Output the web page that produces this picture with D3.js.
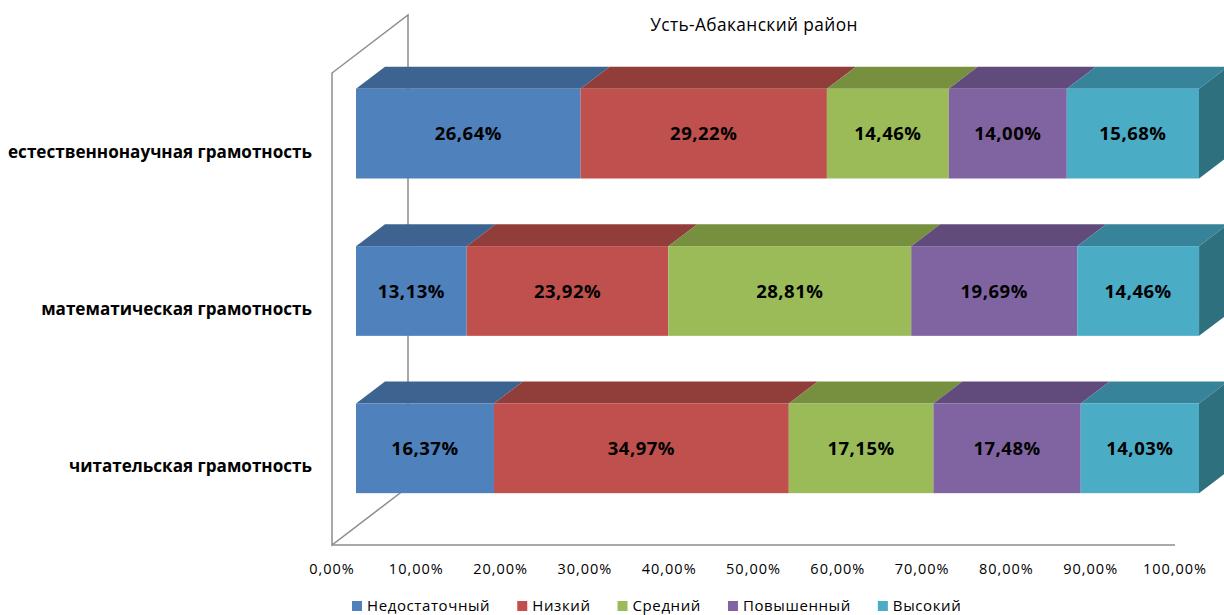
<!DOCTYPE html>
<html><head><meta charset="utf-8">
<script src="https://cdn.jsdelivr.net/npm/d3@7/dist/d3.min.js"></script>
<style>body{margin:0;background:#fff}svg{display:block}</style>
</head><body>
<svg id="c" width="1224" height="615"></svg>
<script>
const title = "Усть-Абаканский район";
const categories = ["естественнонаучная грамотность","математическая грамотность","читательская грамотность"];
const seriesNames = ["Недостаточный","Низкий","Средний","Повышенный","Высокий"];
const sNedost = [26.64,13.13,16.37];
const sNizk = [29.22,23.92,34.97];
const sSred = [14.46,28.81,17.15];
const sPov = [14.00,19.69,17.48];
const sVys = [15.68,14.46,14.03];
const tickValues = [0,10,20,30,40,50,60,70,80,90,100];
const frontColors = ["#4F81BD","#C0504D","#9BBB59","#8064A2","#4BACC6"];
const topColors = ["#3D6491","#913E3B","#77903F","#614B7C","#37839A"];
const sideColors = ["#2F4D70","#70302E","#5C6F31","#4B3A60","#2F707F"];
const series = [sNedost,sNizk,sSred,sPov,sVys];

const svg = d3.select("#c");
const FONT = "'Open Sans', 'DejaVu Sans', sans-serif";
const x = d3.scaleLinear().domain([0,100]).range([332,1175]);
const y = d3.scaleBand().domain(categories).range([73,545]);
const depthX = 76, depthY = -58;
const barOffX = 24, barOffY = -18;
const barDX = 29, barDY = -22;
const barFrac = 0.57;
const fmt = v => d3.format(".2f")(v).replace(".",",")+"%";

// walls / floor
const g0 = svg.append("g").attr("stroke","#8c8c8c").attr("stroke-width",1.5).attr("fill","none");
const x0 = x(0), yT = y.range()[0], yB = y.range()[1];
g0.append("path").attr("d",`M${x0},${yB}L${x0},${yT}L${x0+depthX},${yT+depthY}L${x0+depthX},${yB+depthY}Z`);
g0.append("line").attr("x1",x0).attr("y1",yB).attr("x2",x(100)).attr("y2",yB);

// bars
const bars = svg.append("g");
categories.forEach((cat,ci)=>{
  const bh = y.bandwidth()*barFrac;
  const yc = y(cat)+y.bandwidth()/2 + barOffY;
  const top = yc-bh/2, bot = yc+bh/2;
  let cum = 0;
  series.forEach((s,si)=>{
    const xa = x(cum)+barOffX, xb = x(cum+s[ci])+barOffX;
    cum += s[ci];
    bars.append("path").attr("fill",topColors[si])
      .attr("d",`M${xa},${top}L${xb},${top}L${xb+barDX},${top+barDY}L${xa+barDX},${top+barDY}Z`);
    bars.append("rect").attr("x",xa).attr("y",top).attr("width",xb-xa).attr("height",bh).attr("fill",frontColors[si]);
    if(si===series.length-1){
      bars.append("path").attr("fill",sideColors[si])
        .attr("d",`M${xb},${top}L${xb+barDX},${top+barDY}L${xb+barDX},${bot+barDY}L${xb},${bot}Z`);
    }
    bars.append("text").attr("x",(xa+xb)/2).attr("y",yc+6.5).attr("text-anchor","middle")
      .attr("font-family",FONT).attr("font-weight","bold").attr("font-size",18.5).attr("letter-spacing",0.5).attr("fill","#000")
      .text(fmt(s[ci]));
  });
});

// category labels
svg.append("g").selectAll("text").data(categories).join("text")
  .attr("x",312).attr("y",d=>y(d)+y.bandwidth()/2+6).attr("text-anchor","end")
  .attr("font-family",FONT).attr("font-weight","bold").attr("font-size",17.1).attr("fill","#000")
  .text(d=>d);

// x ticks
svg.append("g").selectAll("text").data(tickValues).join("text")
  .attr("x",d=>x(d)).attr("y",574).attr("text-anchor","middle")
  .attr("font-family",FONT).attr("font-size",14.5).attr("letter-spacing",1).attr("fill","#000")
  .text(fmt);

// title
svg.append("text").attr("x",754).attr("y",31).attr("text-anchor","middle")
  .attr("font-family",FONT).attr("font-size",17.3).attr("letter-spacing",0.4).attr("fill","#000").text(title);

// legend
const leg = svg.append("g");
let lx = 352;
seriesNames.forEach((n,i)=>{
  leg.append("rect").attr("x",lx).attr("y",601).attr("width",10).attr("height",10).attr("fill",frontColors[i]);
  const t = leg.append("text").attr("x",lx+15).attr("y",610.5).attr("font-family",FONT).attr("font-size",15)
    .attr("letter-spacing",0.6).attr("fill","#000").text(n);
  lx += 15 + t.node().getComputedTextLength() + 27;
});
</script>
</body></html>
